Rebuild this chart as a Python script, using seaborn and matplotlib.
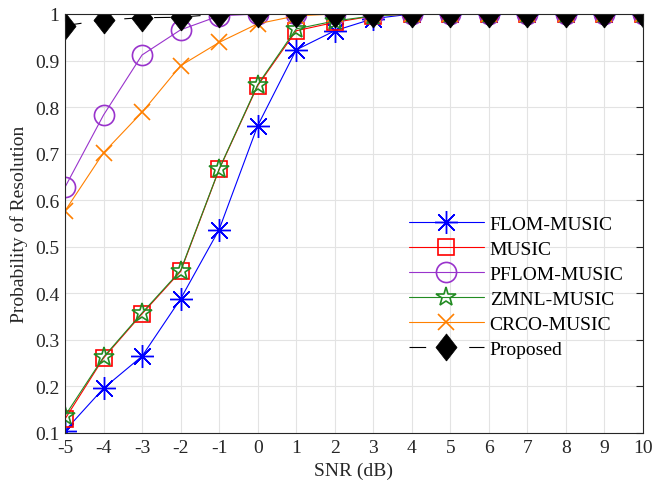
import matplotlib
matplotlib.use("Agg")
import matplotlib.pyplot as plt
import seaborn as sns

sns.set_style("white")
plt.rcParams["font.family"] = ["Liberation Serif", "DejaVu Serif"]
plt.rcParams["lines.scale_dashes"] = False

snr = [-5, -4, -3, -2, -1, 0, 1, 2, 3, 4, 5, 6, 7, 8, 9, 10]

flom_music = [0.105, 0.196, 0.265, 0.388, 0.537, 0.760, 0.923, 0.964, 0.990, 1.0, 1.0, 1.0, 1.0, 1.0, 1.0, 1.0]
music = [0.130, 0.261, 0.356, 0.447, 0.666, 0.846, 0.964, 0.982, 0.996, 1.0, 1.0, 1.0, 1.0, 1.0, 1.0, 1.0]
pflom_music = [0.628, 0.783, 0.912, 0.966, 0.996, 1.0, 1.0, 1.0, 1.0, 1.0, 1.0, 1.0, 1.0, 1.0, 1.0, 1.0]
zmnl_music = [0.137, 0.263, 0.358, 0.449, 0.667, 0.848, 0.968, 0.985, 0.996, 1.0, 1.0, 1.0, 1.0, 1.0, 1.0, 1.0]
crco_music = [0.577, 0.702, 0.789, 0.889, 0.939, 0.979, 0.996, 1.0, 1.0, 1.0, 1.0, 1.0, 1.0, 1.0, 1.0, 1.0]
proposed = [0.975, 0.987, 0.992, 0.993, 1.0, 1.0, 1.0, 1.0, 1.0, 1.0, 1.0, 1.0, 1.0, 1.0, 1.0, 1.0]

labels = ["FLOM-MUSIC", "MUSIC", "PFLOM-MUSIC", "ZMNL-MUSIC", "CRCO-MUSIC", "Proposed"]
yticks = [0.1, 0.2, 0.3, 0.4, 0.5, 0.6, 0.7, 0.8, 0.9, 1.0]
ytick_labels = ["0.1", "0.2", "0.3", "0.4", "0.5", "0.6", "0.7", "0.8", "0.9", "1"]

fig = plt.figure(figsize=(6.66, 4.81), dpi=100)
ax = fig.add_axes([65 / 666, 1 - 434 / 481, 578 / 666, 419 / 481])

# tall diamond and eight-spoke asterisk markers
diamond = [(0, -1.0), (0.78, 0), (0, 1.0), (-0.78, 0), (0, -1.0)]
asterisk = (8, 2, 0)

styles = [
    dict(color="#0000ff", marker=asterisk, markersize=16.5, markeredgewidth=1.0,
         markeredgecolor="#0000ff"),
    dict(color="#ff0000", marker="s", markersize=11, markerfacecolor="none",
         markeredgewidth=1.2, markeredgecolor="#ff0000"),
    dict(color="#9933cc", marker="o", markersize=14.5, markerfacecolor="none",
         markeredgewidth=1.2, markeredgecolor="#9933cc"),
    dict(color="#228b22", marker="*", markersize=15, markerfacecolor="none",
         markeredgewidth=1.2, markeredgecolor="#228b22"),
    dict(color="#ff8000", marker="x", markersize=12, markeredgewidth=1.2,
         markeredgecolor="#ff8000"),
    dict(color="black", marker=diamond, markersize=19.5, markerfacecolor="black",
         markeredgecolor="black", markeredgewidth=0.5, linestyle=(0, (12, 9.5))),
]
series = [flom_music, music, pflom_music, zmnl_music, crco_music, proposed]

for vals, lab, st in zip(series, labels, styles):
    sns.lineplot(x=snr, y=vals, ax=ax, label=lab, linewidth=0.8, **st)

ax.set_xlim(-5, 10)
ax.set_ylim(0.1, 1.0)
ax.set_xticks(snr)
ax.set_xticklabels([str(s) for s in snr])
ax.set_yticks(yticks)
ax.set_yticklabels(ytick_labels)
ax.grid(True, color="#e3e3e3", linewidth=0.8)
ax.set_axisbelow(True)
for sp in ax.spines.values():
    sp.set_visible(True)
    sp.set_color("#262626")
    sp.set_linewidth(0.8)
ax.tick_params(direction="in", length=5, width=0.8, top=True, right=True,
               labelsize=14, colors="#262626")
ax.tick_params(axis="x", pad=4)
ax.tick_params(axis="y", pad=4)
ax.set_xlabel("SNR (dB)", fontsize=14, labelpad=4.5, color="#262626")
ax.set_ylabel("Probability of Resolution", fontsize=14, labelpad=5, color="#262626")

leg = ax.legend(loc="center left", bbox_to_anchor=(409 / 666, 1 - 287.5 / 481),
                bbox_transform=fig.transFigure, frameon=False, fontsize=14,
                handlelength=3.85, handletextpad=0.3, labelspacing=0.38,
                borderaxespad=0, borderpad=0)
for t in leg.get_texts():
    t.set_color("black")

fig.savefig("out.png", dpi=100)
